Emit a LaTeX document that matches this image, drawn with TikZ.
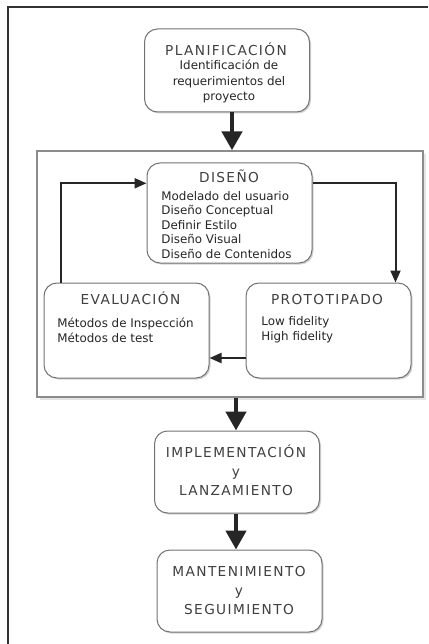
\documentclass[tikz,border=0pt]{standalone}
\usepackage{fontspec}
\setmainfont{DejaVu Sans}
\newfontfamily\ttlfont[LetterSpace=10]{DejaVu Sans}
\usetikzlibrary{shapes,arrows.meta,positioning,shadows,calc}

\begin{document}
\begin{tikzpicture}[x=1pt,y=-1pt]
        % Define styles
        \tikzstyle{block} = [rectangle, draw=black!55, line width=1pt, fill=white,
            rounded corners=13pt, minimum width=165pt,
            drop shadow={shadow xshift=1.5pt, shadow yshift=-1.5pt, fill=black!35}]
        \tikzstyle{frame} = [rectangle, draw=black!45, line width=1.3pt, fill=white,
            minimum width=386pt, minimum height=246pt,
            drop shadow={shadow xshift=3pt, shadow yshift=-3pt, fill=black!20}]
        \tikzstyle{title} = [font=\ttlfont\fontsize{13.7}{19}\selectfont, text=black!75,
            inner sep=0pt, align=center, anchor=base]
        \tikzstyle{items} = [font=\fontsize{11.9}{14.6}\selectfont, text=black!85,
            inner sep=0pt, anchor=base west, align=left]
        \tikzstyle{arrow} = [line width=2pt, draw=black!85, -{Triangle[length=12pt,width=10pt]}]
        \tikzstyle{bigarrow} = [line width=4.5pt, draw=black!85, -{Triangle[length=19pt,width=20pt]}]

        \useasboundingbox (0,0) rectangle (428,644);
        \draw [line width=2pt, black!80] (8,644) -- (8,7) -- (428,7);

        % Nodes
        \node [block, minimum height=83pt] (plan) at (227,70.5) {};
        \node [frame] (iter) at (230,274) {};
        \node [block, minimum height=100pt] (dis) at (229.5,213) {};
        \node [block, minimum height=95pt] (eval) at (126.5,330.5) {};
        \node [block, minimum height=95pt] (proto) at (328.5,330.5) {};
        \node [block, minimum height=82pt] (impl) at (237,472) {};
        \node [block, minimum height=82pt] (mant) at (239.5,591) {};

        % Texts (base = last line)
        \node [title] (plantitle) at ($(plan.north)+(-1,26.7)$) {PLANIFICACIÓN};
        \node [items, anchor=base, align=center, font=\fontsize{11.9}{15.3}\selectfont]
            (plantext) at ($(plan.north)+(2,72)$)
            {Identificación de\\requerimientos del\\proyecto};
        \node [title] (distitle) at ($(dis.north)+(-0.5,20.3)$) {DISEÑO};
        \node [items] (distext) at ($(dis.north west)+(14.7,96)$)
            {Modelado del usuario\\Diseño Conceptual\\Definir Estilo\\Diseño Visual\\Diseño de Contenidos};
        \node [title] (evaltitle) at ($(eval.north)+(4,22)$) {EVALUACIÓN};
        \node [items] (evaltext) at ($(eval.north west)+(13.7,59.7)$)
            {Métodos de Inspección\\Métodos de test};
        \node [title] (prototitle) at ($(proto.north)+(-1.5,22)$) {PROTOTIPADO};
        \node [items] (prototext) at ($(proto.north west)+(15.7,58)$)
            {Low fidelity\\High fidelity};
        \node [title] (impltitle) at ($(impl.north)+(-1,65)$) {IMPLEMENTACIÓN\\y\\LANZAMIENTO};
        \node [title] (manttitle) at ($(mant.north)+(-0.5,65)$) {MANTENIMIENTO\\y\\SEGUIMIENTO};

        % Arrows
        \draw [bigarrow] ([xshift=5pt]plan.south) -- ([xshift=5pt]plan.south |- iter.north);
        \draw [bigarrow] ([xshift=-1pt]impl.north |- iter.south) -- ([xshift=-1pt]impl.north);
        \draw [bigarrow] ([xshift=-1pt]impl.south) -- ([xshift=-1pt]impl.south |- mant.north);
        \draw [arrow] ([xshift=17.7pt]eval.north west) |- ([yshift=29.7pt]dis.west);
        \draw [arrow] ([yshift=29.7pt]dis.east) -| ([xshift=-16pt]proto.north east);
        \draw [arrow] ([yshift=-27.5pt]proto.west) -- ([yshift=-27.5pt]eval.east);

    \end{tikzpicture}
\end{document}
